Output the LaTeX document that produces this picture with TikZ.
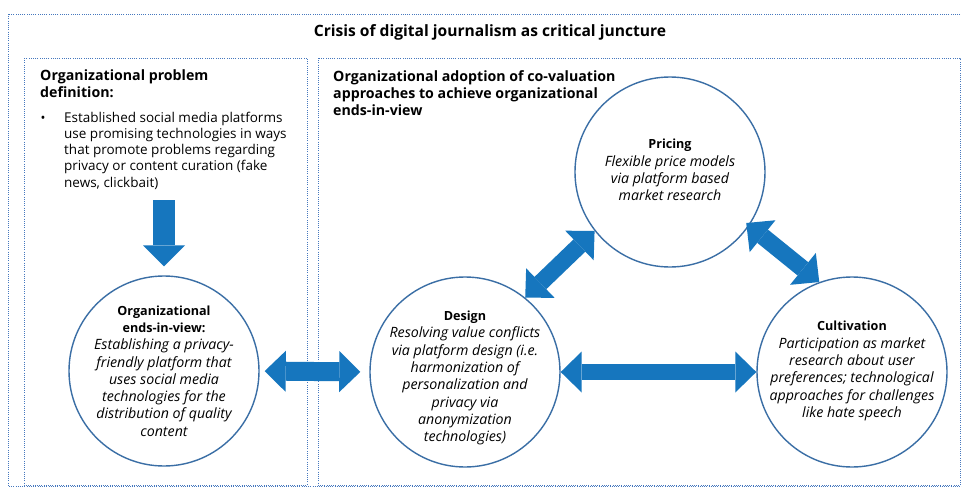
\documentclass[tikz,border=0pt]{standalone}
\usepackage{fontspec}
\setmainfont{Open Sans}
\usetikzlibrary{arrows.meta}
\definecolor{arrowblue}{RGB}{22,118,190}
\definecolor{circblue}{RGB}{58,110,165}
\definecolor{dotblue}{RGB}{70,120,190}
\newcommand{\clabel}[1]{{\fontsize{12.6}{17.3}\selectfont\bfseries\upshape #1}}
\begin{document}
\begin{tikzpicture}[x=1pt,y=-1pt,
  dotbox/.style={draw=dotblue, line width=0.9pt, dash pattern=on 0.9pt off 1.3pt},
  circ/.style={circle, draw=circblue, line width=1.4pt, minimum size=190pt, inner sep=0pt, fill=white},
  ctext/.style={align=center, font=\fontsize{14.2}{17.3}\selectfont\itshape, inner sep=0pt},
  htext/.style={align=left, font=\fontsize{14.2}{17}\selectfont\bfseries, inner sep=0pt, anchor=west},
  dblarrow/.style={draw=arrowblue, fill=arrowblue, line width=#1, {Triangle[length=21pt,width=41pt,line width=0pt]}-{Triangle[length=21pt,width=41pt,line width=0pt]}},
  sglarrow/.style={draw=arrowblue, fill=arrowblue, line width=#1, -{Triangle[length=21pt,width=42pt,line width=0pt]}}
]
\useasboundingbox (0,0) rectangle (962,493);
\fill[white] (0,0) rectangle (962,493);

% boxes
\draw[dotbox] (8,14) rectangle (968,486);
\draw[dotbox] (24,58) rectangle (307,485);
\draw[dotbox] (318,58) rectangle (960,485);

% title and headings
\node[font=\fontsize{15.6}{18}\selectfont\bfseries, inner sep=0pt] (title) at (490,32) {Crisis of digital journalism as critical juncture};
\node[htext] (lefthead) at (40,84) {Organizational problem\\definition:};
\node[htext] (righthead) at (333,93.5) {Organizational adoption of co-valuation\\approaches to achieve organizational\\ends-in-view};
\node[font=\fontsize{13}{16}\selectfont, inner sep=0pt] (bullet) at (43,119.5) {•};
\node[align=left, anchor=west, font=\fontsize{13.5}{16.2}\selectfont, inner sep=0pt] (problem) at (64,150.5)
  {Established social media platforms\\use promising technologies in ways\\that promote problems regarding\\privacy or content curation (fake\\news, clickbait)};

% circles
\node[circ] (ends) at (164,371) {};
\node[circ] (design) at (465,372) {};
\node[circ] (pricing) at (670,172) {};
\node[circ] (cult) at (852,372) {};

\node[ctext] (ends-t) at (164,371) {\clabel{Organizational}\\\clabel{ends-in-view:}\\Establishing a privacy-\\friendly platform that\\uses social media\\technologies for the\\distribution of quality\\content};
\node[ctext] (design-t) at (465,378) {\clabel{Design}\\Resolving value conflicts\\via platform design (i.e.\\harmonization of\\personalization and\\privacy via\\anonymization\\technologies)};
\node[ctext] (pricing-t) at (670,170) {\clabel{Pricing}\\Flexible price models\\via platform based\\market research};
\node[ctext] (cult-t) at (852,371) {\clabel{Cultivation}\\Participation as market\\research about user\\preferences; technological\\approaches for challenges\\like hate speech};

% arrows
\coordinate (dtop) at (164,200);
\draw[sglarrow=22pt, shorten >=9pt] (dtop) -- (ends.north);
\draw[dblarrow=19pt, shorten <=5pt, shorten >=9pt] (ends.east) -- (design.west);
\draw[dblarrow=16pt] (design.east) -- (cult.west);
\draw[dblarrow=17pt] (design.51) -- (pricing.218);
\draw[dblarrow=17pt, shorten <=-4pt] (pricing.326) -- (cult.110);
\end{tikzpicture}
\end{document}
